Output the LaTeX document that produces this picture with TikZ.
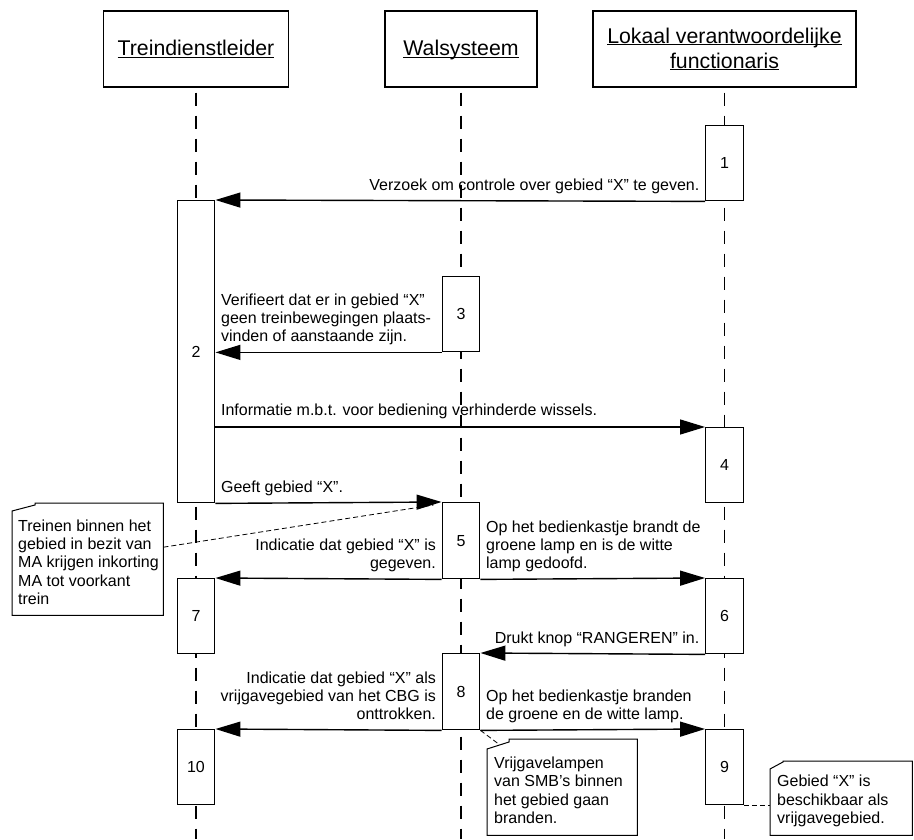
\documentclass[tikz,border=0pt]{standalone}
\usepackage{fontspec}
\setmainfont{Liberation Sans}
\usetikzlibrary{positioning, arrows.meta, calc}

% underline that ignores descenders
\newcommand{\hdrline}[1]{\underline{\raisebox{0pt}[\height][0pt]{#1}}}

\tikzset{
  actor/.style={draw, line width=1.4pt, fill=white, minimum height=76pt,
    inner sep=0pt, align=center, font=\fontsize{21.3}{25}\selectfont},
  lifeline/.style={line width=1.4pt, dash pattern=on 13pt off 10pt, dash phase=18pt},
  act/.style={draw, line width=1.4pt, fill=white, minimum width=37.5pt,
    inner sep=0pt, anchor=north, font=\fontsize{16}{18}\selectfont},
  msg/.style={line width=1.4pt, -{Triangle[length=25pt, width=15pt]}},
  lbl/.style={inner xsep=5pt, inner ysep=2pt, text depth=4pt, yshift=4.5pt,
    font=\fontsize{16}{18}\selectfont},
  notebox/.style={inner sep=0pt, anchor=north west},
  notetxt/.style={inner sep=0pt, align=left, anchor=west, yshift=-3pt,
    font=\fontsize{16}{18.4}\selectfont},
  noteline/.style={line width=1pt, fill=white},
  notelink/.style={line width=0.8pt, dash pattern=on 5pt off 3pt},
}

\begin{document}
\begin{tikzpicture}[x=1pt, y=-1pt]
  \fill[white] (0,0) rectangle (914,839);

  % the three parties and their lifelines
  \node[actor, minimum width=185pt] (tdl) at (196,49) {\hdrline{Treindienstleider}};
  \node[actor, minimum width=152pt] (wal) at (461,49) {\hdrline{Walsysteem}};
  \node[actor, minimum width=263pt] (lvf) at (724.5,49)
    {\hdrline{Lokaal verantwoordelijke}\\\hdrline{functionaris}};

  \coordinate (bot) at (0,839);
  \foreach \who in {tdl, wal, lvf}
    \draw[lifeline] (\who.south) -- (\who.south |- bot);

  % activation bars
  \node[act, minimum height=75pt]  (b1)  at (lvf |- 0,125) {1};
  \node[act, minimum height=302pt] (b2)  at (tdl |- 0,200) {2};
  \node[act, minimum height=75pt]  (b3)  at (wal |- 0,276) {3};
  \node[act, minimum height=75pt]  (b4)  at (lvf |- 0,427) {4};
  \node[act, minimum height=76pt]  (b5)  at (wal |- 0,502) {5};
  \node[act, minimum height=75pt]  (b6)  at (lvf |- 0,578) {6};
  \node[act, minimum height=75pt]  (b7)  at (tdl |- 0,578) {7};
  \node[act, minimum height=76pt]  (b8)  at (wal |- 0,653) {8};
  \node[act, minimum height=75pt]  (b9)  at (lvf |- 0,729) {9};
  \node[act, minimum height=75pt]  (b10) at (tdl |- 0,729) {10};

  % notes
  \node[notebox, minimum width=151pt, minimum height=112pt] (n1) at (12,503) {};
  \node[notebox, minimum width=150pt, minimum height=96pt]  (n2) at (487,739) {};
  \node[notebox, minimum width=142pt, minimum height=74pt]  (n3) at (770,761) {};

  \coordinate (tip5) at ([xshift=-8pt,yshift=-3pt]b5.north west);
  \draw[notelink] ([yshift=12pt]n1.east) -- (tip5);
  \draw[notelink] (b8.south east) -- ([xshift=13pt,yshift=-6pt]n2.north west);
  \draw[notelink] (b9.south east) -- (b9.south east -| n3.west);

  \draw[noteline] ([yshift=-8pt]n1.north west) -- ([xshift=23pt,yshift=-2pt]n1.north west)
    -- ([xshift=23pt]n1.north west) -- (n1.north east) -- (n1.south east) -- (n1.south west) -- cycle;
  \draw[noteline] ([yshift=-10pt]n2.north west) -- ([xshift=22pt,yshift=-3pt]n2.north west)
    -- ([xshift=22pt]n2.north west) -- (n2.north east) -- (n2.south east) -- (n2.south west) -- cycle;
  \draw[noteline] ([yshift=-8pt]n3.north west) -- ([xshift=13pt,yshift=-1pt]n3.north west)
    -- ([xshift=13pt]n3.north west) -- (n3.north east) -- (n3.south east) -- (n3.south west) -- cycle;

  \node[notetxt] (n1t) at ([xshift=6pt]n1.west)
    {Treinen binnen het\\gebied in bezit van\\MA krijgen inkorting\\MA tot voorkant\\trein};
  \node[notetxt] (n2t) at ([xshift=7pt]n2.west)
    {Vrijgavelampen\\van SMB’s binnen\\het gebied gaan\\branden.};
  \node[notetxt] (n3t) at ([xshift=7pt]n3.west)
    {Gebied “X” is\\beschikbaar als\\vrijgavegebied.};

  % messages
  \draw[msg] (b1.south west) node[lbl, anchor=south east]
    {Verzoek om controle over gebied “X” te geven.} -- (b2.north east);
  \draw[msg] (b3.south west) -- (b3.south west -| b2.east) node[lbl, anchor=south west, align=left]
    {Verifieert dat er in gebied “X”\\geen treinbewegingen plaats-\\vinden of aanstaande zijn.};
  \draw[msg] (b4.north west -| b2.east) node[lbl, anchor=south west]
    {Informatie m.b.t. voor bediening verhinderde wissels.} -- (b4.north west);
  \draw[msg] (b2.south east) node[lbl, anchor=south west]
    {Geeft gebied “X”.} -- (b5.north west);
  \draw[msg] (b5.south west) node[lbl, anchor=south east, align=right]
    {Indicatie dat gebied “X” is\\gegeven.} -- (b7.north east);
  \draw[msg] (b5.south east) node[lbl, anchor=south west, align=left]
    {Op het bedienkastje brandt de\\groene lamp en is de witte\\lamp gedoofd.} -- (b6.north west);
  \draw[msg] (b6.south west) node[lbl, anchor=south east]
    {Drukt knop “RANGEREN” in.} -- (b8.north east);
  \draw[msg] (b8.south west) node[lbl, anchor=south east, align=right]
    {Indicatie dat gebied “X” als\\vrijgavegebied van het CBG is\\onttrokken.} -- (b10.north east);
  \draw[msg] (b8.south east) node[lbl, anchor=south west, align=left]
    {Op het bedienkastje branden\\de groene en de witte lamp.} -- (b9.north west);
\end{tikzpicture}
\end{document}
